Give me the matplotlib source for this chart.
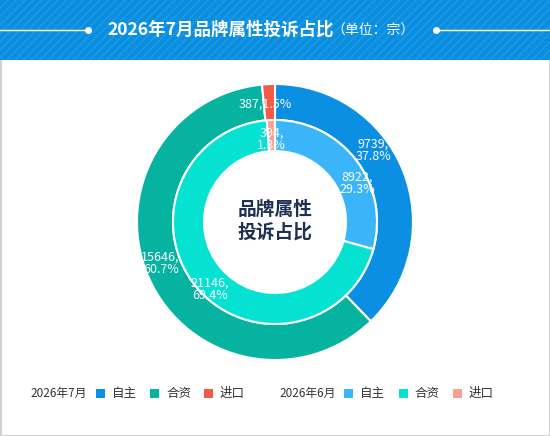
import numpy as np
import matplotlib
matplotlib.use('Agg')
import matplotlib.pyplot as plt
from matplotlib.patches import Rectangle

plt.rcParams['font.family'] = ['Noto Sans CJK SC', 'DejaVu Sans']
plt.rcParams['hatch.linewidth'] = 1.0

# data (单位: 宗)
categories = ['自主', '合资', '进口']
jul_values = [9739, 15646, 387]
jun_values = [8922, 21146, 394]
jul_colors = ['#0b8fe3', '#06b3a0', '#f45a44']
jun_colors = ['#3bb5fa', '#05e2d2', '#f5a193']
title = '2026年7月品牌属性投诉占比'
unit = '（单位：宗）'
center_text = '品牌属性\n投诉占比'

W, H = 550, 436
fig = plt.figure(figsize=(W / 100, H / 100), dpi=100)

# background layer in pixel coords
bg = fig.add_axes([0, 0, 1, 1])
bg.set_xlim(0, W)
bg.set_ylim(H, 0)
bg.axis('off')
bg.add_patch(Rectangle((0, 0), W, H, facecolor='white', edgecolor='#cfcfcf', lw=2))
bg.add_patch(Rectangle((0, 0), W, 60, facecolor='#0a8edf', edgecolor='#1f9be6',
                       hatch='////', lw=0))
bg.plot([0, 88], [30, 30], color='white', lw=1)
bg.plot([88], [30], 'o', color='white', ms=4)
bg.plot([436, W], [30, 30], color='white', lw=1)
bg.plot([436], [30], 'o', color='white', ms=4)
bg.text(334, 30, title, color='white', fontsize=12.6, fontweight='bold',
        ha='right', va='center')
bg.text(331, 31, unit, color='white', fontsize=10, ha='left', va='center')

# legend
def legend_group(x0, label, colors, xs):
    bg.text(x0, 393, label, fontsize=8.5, color='#333333', ha='left', va='center')
    for (sx, tx), c, name in zip(xs, colors, categories):
        bg.add_patch(Rectangle((sx, 389), 9, 9, facecolor=c, lw=0))
        bg.text(tx, 393, name, fontsize=9, color='#333333', ha='left', va='center')

legend_group(30, '2026年7月', jul_colors, [(96, 112), (150, 167), (204, 220)])
legend_group(279, '2026年6月', jun_colors, [(344, 360), (399, 415), (453, 469)])

# donut
cx, cy, R = 275, 222, 138
ax = fig.add_axes([(cx - R) / W, (H - cy - R) / H, 2 * R / W, 2 * R / H])
r_mid = 102 / R
r_in = 71 / R

outer, _ = ax.pie(jul_values, colors=jul_colors, radius=1, startangle=90,
                  counterclock=False,
                  wedgeprops=dict(width=1 - r_mid, edgecolor='white', linewidth=1.5))
inner, _ = ax.pie(jun_values, colors=jun_colors, radius=r_mid, startangle=90,
                  counterclock=False,
                  wedgeprops=dict(width=r_mid - r_in, edgecolor='white', linewidth=1.5))
ax.set_xlim(-1, 1)
ax.set_ylim(-1, 1)
ax.axis('off')


def put_labels(wedges, values, rads, shifts, one_line):
    total = sum(values)
    for w, v, rad, sh, ol in zip(wedges, values, rads, shifts, one_line):
        a = np.radians((w.theta1 + w.theta2) / 2 + sh)
        sep = ',' if ol else ',\n'
        txt = '{}{}{:.1f}%'.format(v, sep, v / total * 100)
        ax.text(rad * np.cos(a), rad * np.sin(a), txt, color='white', fontsize=9,
                ha='center', va='center', linespacing=0.95)


put_labels(outer, jul_values, [0.88, 0.88, 0.86], [14, -5, 2], [False, False, True])
put_labels(inner, jun_values, [0.66, 0.68, 0.60], [-12, 6.5, 0], [False, False, False])

ax.text(0, 0.01, center_text, color='#1f3152', fontsize=13.5, fontweight='bold',
        ha='center', va='center', linespacing=1.25)

fig.savefig('out.png', dpi=100)
